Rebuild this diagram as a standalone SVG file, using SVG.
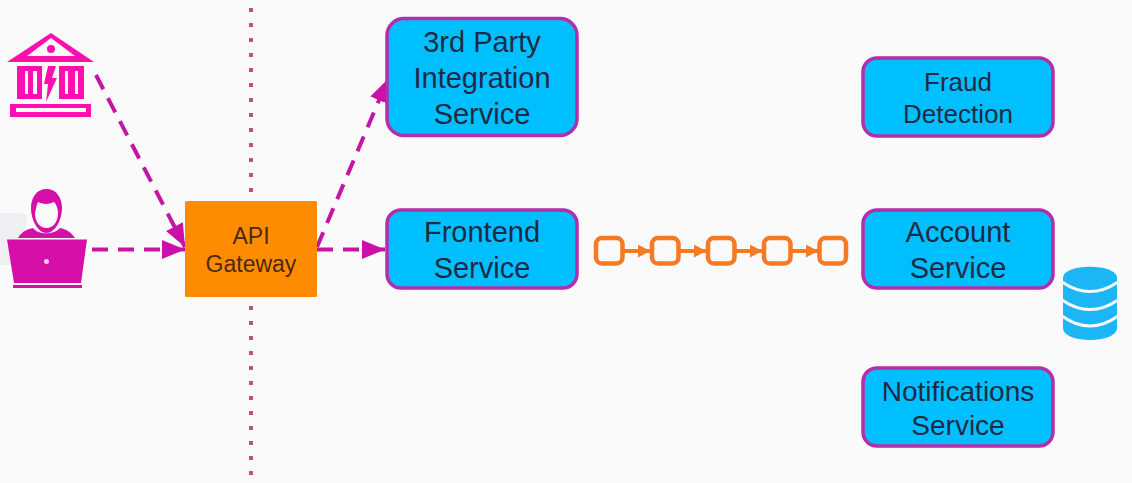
<svg xmlns="http://www.w3.org/2000/svg" width="1132" height="483" viewBox="0 0 1132 483">
<style>
.svc{fill:#00bfff;stroke:#b32ea8;stroke-width:3.5}
.t{font-family:"Liberation Sans",Arial,sans-serif;font-size:29px;fill:#1f2a44;text-anchor:middle}
.g{font-family:"Liberation Sans",Arial,sans-serif;font-size:23px;fill:#4a2a10;text-anchor:middle}
.d{fill:none;stroke:#c416a4;stroke-width:4;stroke-dasharray:16 10}
.o{fill:none;stroke:#f47a24;stroke-width:4.500}
.ol{stroke:#f47a24;stroke-width:4}
.p{fill:#ff0fb0}
.m{fill:#d60fa8}
.gap{fill:none;stroke:#f4fafd;stroke-width:3}
</style>
<defs>
<marker id="ah" markerUnits="userSpaceOnUse" markerWidth="24" markerHeight="20" refX="23" refY="9.500" orient="auto"><path d="M0 0L23 9.500L0 19Z" fill="#cc0fa8"/></marker>
<marker id="oh" markerUnits="userSpaceOnUse" markerWidth="13" markerHeight="14" refX="12" refY="6.500" orient="auto"><path d="M0 0L12 6.500L0 13Z" fill="#f47a24"/></marker>
</defs>
<rect width="1132" height="483" fill="#fafafb"/>
<path d="M0 213H20Q27 213 27 220L20 265H0Z" fill="#efeff4"/>
<g id="divider"><line x1="251" y1="8" x2="251" y2="195" stroke="#c8506a" stroke-width="4" stroke-dasharray="4 11"/><line x1="251" y1="306" x2="251" y2="476" stroke="#c8506a" stroke-width="4" stroke-dasharray="4 11"/></g>
<g id="connectors">
<path class="d" d="M96 75L185 247" marker-end="url(#ah)"/>
<path class="d" d="M92 249.500H185" marker-end="url(#ah)"/>
<path class="d" d="M317 247L388 79" marker-end="url(#ah)"/>
<path class="d" d="M317 249.500H385" marker-end="url(#ah)"/>
</g>
<g id="bank">
<path class="p" fill-rule="evenodd" d="M51 33L94 62H7ZM51 38L27 56H75Z"/>
<circle class="p" cx="51" cy="49" r="4"/>
<path class="p" fill-rule="evenodd" d="M17 66H42V99H17ZM25 71V94H28V71ZM33 71V94H37V71Z"/>
<path class="p" fill-rule="evenodd" d="M59 66H84V99H59ZM65 71V94H68V71ZM75 71V94H78V71Z"/>
<path class="p" d="M48 66H56L52 78H57L46 102L48 84H44Z"/>
<path class="p" fill-rule="evenodd" d="M10 104H91V117H10ZM16 108V112H86V108Z"/>
</g>
<g id="user">
<path class="m" fill-rule="evenodd" d="M46.500 189C56 189 62 197 62 208C62 220 55 233 46.500 233C38 233 31 220 31 208C31 197 37 189 46.500 189ZM35 213C35 222 40 228 46.500 228C53 228 58 222 58 213C58 208 56 204 54 202C48 205 42 204 38 202C36 206 36 210 35 213Z"/>
<path class="m" d="M18 238C22 231 28 229 33 228C38 235 54 235 60 228C66 229 71 232 75 238Z"/>
<path class="m" d="M7 239.500H87L81 283H14Z"/>
<rect class="m" x="13" y="285" width="69" height="3"/>
<circle cx="46.500" cy="261.500" r="2.500" fill="#ffd0f0"/>
</g>
<g id="api-gateway">
<rect x="185" y="201" width="132" height="96" rx="1.500" fill="#ff8c00"/>
<text class="g" x="251" y="244">API</text>
<text class="g" x="251" y="272">Gateway</text>
</g>
<g id="third-party">
<rect class="svc" x="387" y="18.500" width="190" height="117" rx="17"/>
<text class="t" x="482" y="52">3rd Party</text><text class="t" x="482" y="88">Integration</text><text class="t" x="482" y="124">Service</text>
</g>
<g id="frontend">
<rect class="svc" x="387" y="210" width="190" height="78" rx="14"/>
<text class="t" x="482" y="242">Frontend</text><text class="t" x="482" y="278">Service</text>
</g>
<g id="fraud">
<rect class="svc" x="863" y="58" width="190" height="78" rx="14"/>
<text class="t" x="958" y="91" style="font-size:26px">Fraud</text><text class="t" x="958" y="123" style="font-size:26px">Detection</text>
</g>
<g id="account">
<rect class="svc" x="863" y="210" width="190" height="78" rx="14"/>
<text class="t" x="958" y="242">Account</text><text class="t" x="958" y="278">Service</text>
</g>
<g id="notifications">
<rect class="svc" x="863" y="368" width="190" height="78" rx="14"/>
<text class="t" x="958" y="401" style="font-size:28px">Notifications</text><text class="t" x="958" y="435" style="font-size:28px">Service</text>
</g>
<g id="queue">
<rect class="o" x="596" y="238" width="26.500" height="25.500" rx="6"/>
<rect class="o" x="652" y="238" width="26.500" height="25.500" rx="6"/>
<rect class="o" x="708" y="238" width="26.500" height="25.500" rx="6"/>
<rect class="o" x="764" y="238" width="26.500" height="25.500" rx="6"/>
<rect class="o" x="819.500" y="238" width="26.500" height="25.500" rx="6"/>
<path class="ol" d="M623 251H650" marker-end="url(#oh)"/>
<path class="ol" d="M679 251H706" marker-end="url(#oh)"/>
<path class="ol" d="M735 251H762" marker-end="url(#oh)"/>
<path class="ol" d="M791 251H818" marker-end="url(#oh)"/>
</g>
<g id="database">
<path d="M1063 278C1063 263 1117 263 1117 278V328C1117 344 1063 344 1063 328Z" fill="#1cb6f7"/>
<path class="gap" d="M1062 282Q1090 301 1118 282"/>
<path class="gap" d="M1062 300Q1090 319 1118 300"/>
<path class="gap" d="M1062 316Q1090 336 1118 316"/>
</g>
</svg>
